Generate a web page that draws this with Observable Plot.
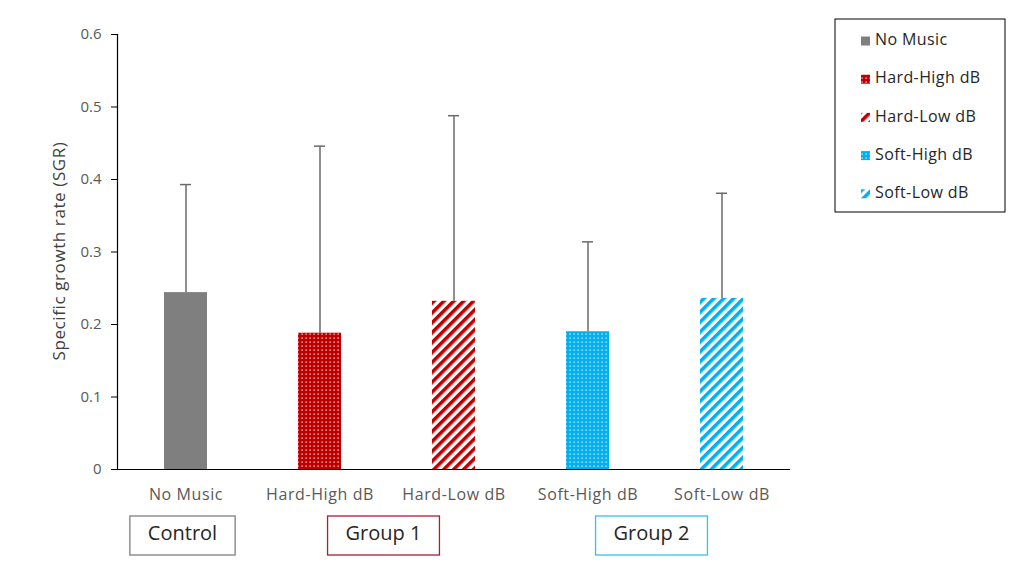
<!DOCTYPE html>
<html><head><meta charset="utf-8">
<script src="https://cdn.jsdelivr.net/npm/d3@7"></script>
<script src="https://cdn.jsdelivr.net/npm/@observablehq/plot@0.6"></script>
<style>
html,body{margin:0;padding:0;background:#fff;}
#chart{position:relative;width:1018px;height:568px;}
</style></head><body><div id="chart"></div>
<script>
// ---- data ----
const categories = ["No Music", "Hard-High dB", "Hard-Low dB", "Soft-High dB", "Soft-Low dB"];
const sgr = [0.244, 0.188, 0.232, 0.190, 0.236];
const sdUpper = [0.149, 0.258, 0.256, 0.124, 0.145];
const baseColors = ["#7f7f7f", "#c00000", "#c00000", "#00b0f0", "#00b0f0"];
const fillStyles = ["solid", "dots", "stripes", "dots", "stripes"];
const yTicks = [0, 0.1, 0.2, 0.3, 0.4, 0.5, 0.6];
const yLabel = "Specific growth rate (SGR)";
const groups = ["Control", "Group 1", "Group 2"];
const groupMembers = [[0], [1, 2], [3, 4]];
const groupColors = ["#7f7f7f", "#a3203b", "#33c3e8"];

const FONT = "'Open Sans', 'Noto Sans', sans-serif";
const patId = i => `pat-${i}`;
const data = categories.map((c, i) => ({category: c, sgr: sgr[i], top: sgr[i] + sdUpper[i]}));

const chart = Plot.plot({
  width: 1018, height: 568,
  marginLeft: 117, marginRight: 228, marginTop: 34, marginBottom: 99,
  style: {fontFamily: FONT, fontSize: "15px", background: "#fff", color: "#595959", overflow: "visible"},
  x: {domain: categories, paddingInner: 0.68, paddingOuter: 0.34, axis: null},
  y: {domain: [0, 0.6], axis: null},
  color: {type: "ordinal", domain: categories, range: categories.map((c, i) => `url(#${patId(i)})`)},
  marks: [
    Plot.barY(data, {x: "category", y: "sgr", fill: "category"}),
    Plot.ruleX(data, {x: "category", y1: "sgr", y2: "top", stroke: "#6a6a6a", strokeWidth: 1.5}),
    Plot.tickY(data, {x: "category", y: "top", stroke: "#6a6a6a", strokeWidth: 1.5, insetLeft: 16, insetRight: 16}),
    Plot.axisY({ticks: yTicks, tickSize: 6, tickPadding: 10, tickFormat: d => String(+d.toFixed(1)), label: null, fontSize: 15, stroke: "#000"}),
    Plot.axisX({tickSize: 0, tickPadding: 19, label: null, fontSize: 16}),
    Plot.frame({anchor: "left", stroke: "#000", strokeWidth: 1.2}),
    Plot.ruleY([0], {stroke: "#000", strokeWidth: 1.2}),
    Plot.text([yLabel], {frameAnchor: "left", rotate: -90, dx: -58, dy: -1, textAnchor: "middle", fill: "#404040", fontSize: 17})
  ]
});
document.getElementById("chart").appendChild(chart);

// ---- patterns ----
const svg = d3.select(chart);
svg.selectAll("[aria-label='x-axis tick label'] text, g[aria-label='text'] text").style("letter-spacing", "0.6px");
const defs = svg.insert("defs", ":first-child");
categories.forEach((c, i) => {
  const col = baseColors[i], st = fillStyles[i];
  if (st === "solid") {
    const p = defs.append("pattern").attr("id", patId(i)).attr("patternUnits", "userSpaceOnUse").attr("width", 4).attr("height", 4);
    p.append("rect").attr("width", 4).attr("height", 4).attr("fill", col);
  } else if (st === "dots") {
    const p = defs.append("pattern").attr("id", patId(i)).attr("patternUnits", "userSpaceOnUse").attr("width", 4).attr("height", 4);
    p.append("rect").attr("width", 4).attr("height", 4).attr("fill", col);
    p.append("rect").attr("x", 1.5).attr("y", 1.5).attr("width", 1.2).attr("height", 1.2).attr("fill", "#fff");
  } else {
    const p = defs.append("pattern").attr("id", patId(i)).attr("patternUnits", "userSpaceOnUse").attr("width", 7).attr("height", 7).attr("patternTransform", "rotate(45)");
    p.append("rect").attr("width", 7).attr("height", 7).attr("fill", "#fff");
    p.append("rect").attr("width", 3.6).attr("height", 7).attr("fill", col);
  }
});

// ---- group boxes under the axis ----
const xs = chart.scale("x"), ys = chart.scale("y");
const center = i => xs.apply(categories[i]) + xs.bandwidth / 2;
const baseY = ys.apply(0);
groups.forEach((g, k) => {
  const cx = d3.mean(groupMembers[k], center) - 3;
  const gEl = svg.append("g");
  const t = gEl.append("text").attr("x", cx).attr("y", baseY + 66).attr("text-anchor", "middle")
    .attr("dominant-baseline", "middle").attr("font-family", FONT).attr("font-size", 20).attr("fill", "#262626").text(g);
  const w = t.node().getComputedTextLength() + 36;
  gEl.insert("rect", "text").attr("x", cx - w / 2).attr("y", baseY + 47).attr("width", w).attr("height", 39)
    .attr("fill", "#fff").attr("stroke", groupColors[k]).attr("stroke-width", 1.3);
});

// ---- legend ----
const lg = svg.append("g").attr("text-anchor", "start");
lg.append("rect").attr("x", 835).attr("y", 19).attr("width", 170).attr("height", 193)
  .attr("fill", "#fff").attr("stroke", "#000").attr("stroke-width", 1);
categories.forEach((c, i) => {
  const cy = 41 + i * 38.2;
  lg.append("rect").attr("x", 861).attr("y", cy - 4.5).attr("width", 9).attr("height", 9).attr("fill", `url(#${patId(i)})`);
  lg.append("text").attr("x", 875).attr("y", cy).attr("text-anchor", "start").attr("dominant-baseline", "middle")
    .attr("font-family", FONT).attr("font-size", 16).attr("letter-spacing", "0.4px").attr("fill", "#262626").text(c);
});
</script></body></html>
